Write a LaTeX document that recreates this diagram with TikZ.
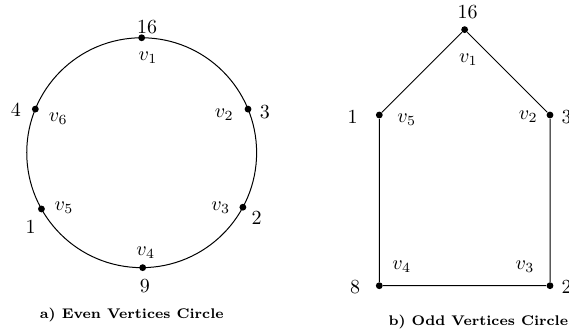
\documentclass[tikz,border=0pt]{standalone}
\usepackage{tikz}
\usetikzlibrary{positioning,calc}
\usepackage{amsmath}

\begin{document}
\begin{tikzpicture}[x=1cm,y=1cm,
  vert/.style={circle,fill=black,inner sep=0pt,minimum size=0.12cm},
  num/.style={inner sep=0pt},
  vlab/.style={inner sep=0pt},
  subcap/.style={font=\scriptsize\bfseries,inner sep=0pt}]
\useasboundingbox (0,0) rectangle (10,5.870);
% a) even vertices circle
\coordinate (c) at (2.490,3.186);
\draw[line width=0.5pt] (c) circle (2.02);
\node[vert] (a1) at ($(c)+(90:2.02)$) {};
\node[vert] (a2) at ($(c)+(22.3:2.02)$) {};
\node[vert] (a3) at ($(c)+(-28.3:2.02)$) {};
\node[vert] (a4) at ($(c)+(-89.5:2.02)$) {};
\node[vert] (a5) at ($(c)+(209.3:2.02)$) {};
\node[vert] (a6) at ($(c)+(157.7:2.02)$) {};
\node[num] (an1) at (2.584,5.401) {16};
\node[num] (an2) at (4.657,3.907) {3};
\node[num] (an3) at (4.511,2.033) {2};
\node[num] (an4) at (2.548,0.849) {9};
\node[num] (an5) at (0.540,1.886) {1};
\node[num] (an6) at (0.281,3.937) {4};
\node[vlab] (al1) at (2.601,4.851) {$v_1$};
\node[vlab] (al2) at (3.942,3.849) {$v_2$};
\node[vlab] (al3) at (3.879,2.227) {$v_3$};
\node[vlab] (al4) at (2.561,1.436) {$v_4$};
\node[vlab] (al5) at (1.125,2.227) {$v_5$};
\node[vlab] (al6) at (1.025,3.791) {$v_6$};
\node[subcap] (acap) at (2.315,0.334) {a) Even Vertices Circle};
% b) odd vertices circle
\node[vert] (b1) at (8.166,5.349) {};
\node[vert] (b2) at (9.666,3.849) {};
\node[vert] (b3) at (9.666,0.849) {};
\node[vert] (b4) at (6.666,0.849) {};
\node[vert] (b5) at (6.666,3.849) {};
\draw[line width=0.5pt] (b1) -- (b2) -- (b3) -- (b4) -- (b5) -- (b1);
\node[num] (bn1) at (8.220,5.664) {16};
\node[num] (bn2) at (9.960,3.819) {3};
\node[num] (bn3) at (9.960,0.831) {2};
\node[num] (bn4) at (6.239,0.831) {8};
\node[num] (bn5) at (6.199,3.819) {1};
\node[vlab] (bl1) at (8.231,4.816) {$v_1$};
\node[vlab] (bl2) at (9.285,3.819) {$v_2$};
\node[vlab] (bl3) at (9.227,1.183) {$v_3$};
\node[vlab] (bl4) at (7.060,1.183) {$v_4$};
\node[vlab] (bl5) at (7.148,3.773) {$v_5$};
\node[subcap] (bcap) at (8.406,0.216) {b) Odd Vertices Circle};
\end{tikzpicture}
\end{document}
